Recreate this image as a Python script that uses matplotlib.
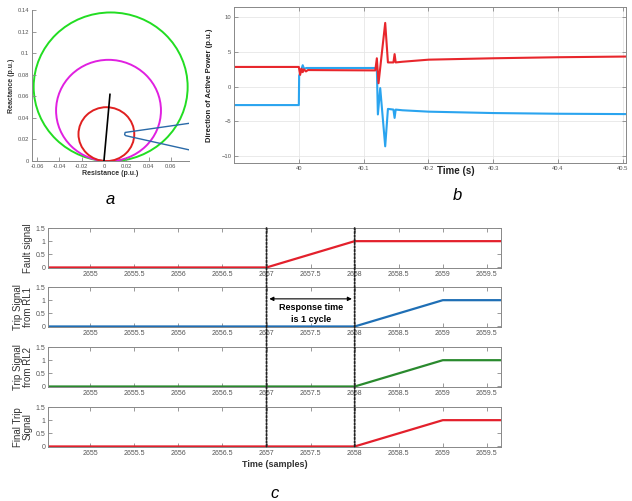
import numpy as np
import matplotlib
matplotlib.use('Agg')
from matplotlib import pyplot as plt
from matplotlib.patches import Circle, ConnectionPatch

# ---- panel a: mho circles ----
circle_radius = [0.069, 0.047, 0.025]    # green, magenta, red
circle_angle = 85.0    # degrees, line angle
circle_colors = ['#22dd22', '#e020e0', '#e02020']
line_end = [0.0054, 0.0618]
traj_r = [0.080, 0.019, 0.0185, 0.0195, 0.080]
traj_x = [0.0355, 0.0265, 0.0245, 0.0235, 0.0095]

# ---- panel b: direction of active power ----
red_t = [39.9, 40.0, 40.002, 40.004, 40.006, 40.008, 40.011, 40.014, 40.118, 40.1204, 40.123,
         40.1271, 40.1333, 40.1375, 40.146, 40.1478, 40.1495, 40.16, 40.2005, 40.3, 40.4, 40.505]
red_v = [2.85, 2.85, 1.7, 2.6, 2.1, 2.5, 2.2, 2.4, 2.35, 4.1, 0.5, 4.0, 9.2, 3.5, 3.5, 4.7, 3.5,
         3.6, 3.9, 4.1, 4.25, 4.35]
blue_t = [39.9, 40.0, 40.0005, 40.003, 40.006, 40.008, 40.012, 40.118, 40.1204, 40.122,
          40.1256, 40.1333, 40.1375, 40.146, 40.1478, 40.1495, 40.16, 40.2005, 40.3, 40.4, 40.505]
blue_v = [-2.65, -2.65, 1.6, 2.2, 3.1, 2.6, 2.7, 2.7, 2.6, -4.0, -0.2, -8.6, -3.2, -3.3, -4.5,
          -3.3, -3.4, -3.6, -3.8, -3.9, -3.95]

# ---- panel c: trip signals ----
samples = [2654, 2655, 2656, 2657, 2658, 2659, 2660]
fault_signal = [0, 0, 0, 0, 1, 1, 1]
trip_rl1 = [0, 0, 0, 0, 0, 1, 1]
trip_rl2 = [0, 0, 0, 0, 0, 1, 1]
final_trip = [0, 0, 0, 0, 0, 1, 1]
event_marks = [2657, 2658]
c_labels = ['Fault signal', 'Trip Signal\nfrom RL1', 'Trip Signal\nfrom RL2', 'Final Trip\nSignal']
c_colors = ['#e3202c', '#1f6fb5', '#2a8a2e', '#e3202c']

plt.rcParams['font.family'] = ['Liberation Sans', 'DejaVu Sans']
tick_gray = '#555555'
spine_gray = '#888888'

fig = plt.figure(figsize=(6.32, 5.01), dpi=100)


def style_axes(ax, size=4.5):
    for s in ax.spines.values():
        s.set_color(spine_gray)
        s.set_linewidth(0.7)
    ax.tick_params(direction='in', top=True, right=True, length=3, width=0.6,
                   colors=spine_gray, labelcolor=tick_gray, labelsize=size, pad=2)


# panel a
axa = fig.add_axes([0.0506, 0.6786, 0.2484, 0.3014])
ang = np.deg2rad(circle_angle)
for r, c in zip(circle_radius, circle_colors):
    axa.add_patch(Circle((r * np.cos(ang), r * np.sin(ang)), r, fill=False, color=c, lw=1.4))
axa.plot([0, line_end[0]], [0, line_end[1]], color='black', lw=1.2)
axa.plot(traj_r, traj_x, color='#2a6aa8', lw=1.0)
axa.set_xlim(-0.0645, 0.0762)
axa.set_ylim(0, 0.14)
axa.set_xticks([-0.06, -0.04, -0.02, 0, 0.02, 0.04, 0.06])
axa.set_xticklabels(['-0.06', '-0.04', '-0.02', '0', '0.02', '0.04', '0.06'])
axa.set_yticks([0, 0.02, 0.04, 0.06, 0.08, 0.1, 0.12, 0.14])
axa.set_yticklabels(['0', '0.02', '0.04', '0.06', '0.08', '0.1', '0.12', '0.14'])
style_axes(axa, 4.2)
axa.tick_params(top=False, right=False)
axa.spines['top'].set_visible(False)
axa.spines['right'].set_visible(False)
axa.set_xlabel('Resistance (p.u.)', fontsize=5, fontweight='bold', color='#333333', labelpad=1)
axa.set_ylabel('Reactance (p.u.)', fontsize=5, fontweight='bold', color='#333333', labelpad=2)

# panel b
axb = fig.add_axes([0.3703, 0.6747, 0.6203, 0.3114])
axb.plot(blue_t, blue_v, color='#2aa4ef', lw=1.5)
axb.plot(red_t, red_v, color='#e8262c', lw=1.5)
axb.set_xlim(39.9, 40.505)
axb.set_ylim(-11.0, 11.5)
axb.set_xticks([40, 40.1, 40.2, 40.3, 40.4, 40.5])
axb.set_xticklabels(['40', '40.1', '40.2', '40.3', '40.4', '40.5'])
axb.set_yticks([-10, -5, 0, 5, 10])
axb.grid(True, color='#e6e6e6', lw=0.6)
style_axes(axb, 4.2)
axb.set_xlabel('Time (s)', fontsize=7, fontweight='bold', color='#222222')
axb.xaxis.set_label_coords(0.565, -0.02)
axb.set_ylabel('Direction of Active Power (p.u.)', fontsize=5.5, fontweight='bold',
               color='#222222', labelpad=6)

# panel c
c_series = [fault_signal, trip_rl1, trip_rl2, final_trip]
c_bottoms = [0.4651, 0.3473, 0.2275, 0.1078]
c_axes = []
for vals, lab, col, b in zip(c_series, c_labels, c_colors, c_bottoms):
    ax = fig.add_axes([0.0759, b, 0.7168, 0.0798])
    ax.plot(samples, vals, color=col, lw=1.6)
    ax.set_xlim(2654.52, 2659.66)
    ax.set_ylim(-0.02, 1.5)
    ax.set_xticks(np.arange(2655, 2659.6, 0.5))
    ax.set_xticklabels(['2655', '2655.5', '2656', '2656.5', '2657', '2657.5', '2658',
                        '2658.5', '2659', '2659.5'])
    ax.set_yticks([0, 0.5, 1, 1.5])
    ax.set_yticklabels(['0', '0.5', '1', '1.5'])
    style_axes(ax, 5)
    ax.set_ylabel(lab, fontsize=7, color='#333333', labelpad=2, linespacing=0.9)
    c_axes.append(ax)
c_axes[-1].set_xlabel('Time (samples)', fontsize=6.5, fontweight='bold', color='#333333', labelpad=2)

for xm in event_marks:
    con = ConnectionPatch(xyA=(xm, 1.5), coordsA='data', axesA=c_axes[0],
                          xyB=(xm, -0.02), coordsB='data', axesB=c_axes[-1],
                          color='#222222', lw=1.3, linestyle=(0, (1, 1)))
    fig.add_artist(con)

ax2 = c_axes[1]
ax2.annotate('', xy=(event_marks[0], 1.05), xytext=(event_marks[1], 1.05),
             arrowprops=dict(arrowstyle='<|-|>', color='black', lw=0.8, mutation_scale=6))
ax2.text(np.mean(event_marks), 0.73, 'Response time', ha='center', va='center',
         fontsize=6.5, fontweight='bold')
ax2.text(np.mean(event_marks), 0.25, 'is 1 cycle', ha='center', va='center',
         fontsize=6.5, fontweight='bold')

# panel letters
fig.text(110 / 632, 1 - 200 / 501, 'a', fontsize=12, style='italic', ha='center', va='center')
fig.text(457 / 632, 1 - 196 / 501, 'b', fontsize=12, style='italic', ha='center', va='center')
fig.text(275 / 632, 1 - 493 / 501, 'c', fontsize=12, style='italic', ha='center', va='center')

plt.savefig('out.png', dpi=100)
